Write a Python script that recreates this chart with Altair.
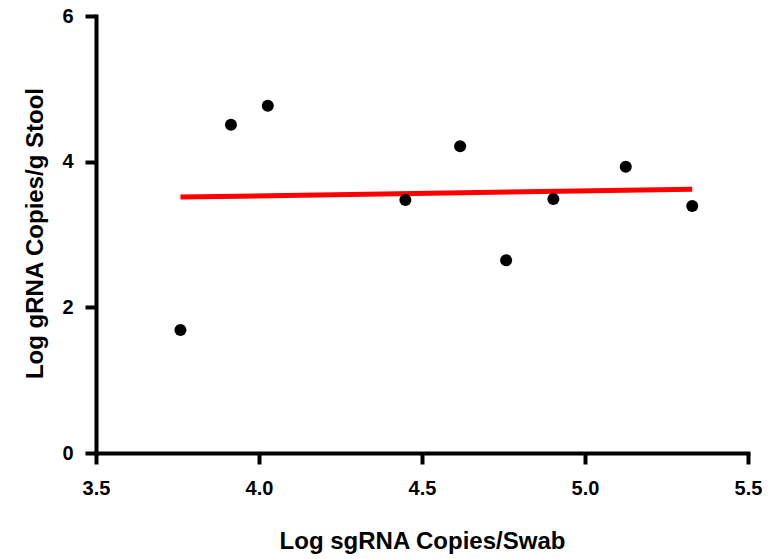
import altair as alt
import pandas as pd

swab = [3.759, 3.914, 4.027, 4.449, 4.617, 4.758, 4.903, 5.125, 5.329]
stool = [1.689, 4.508, 4.769, 3.474, 4.211, 2.646, 3.488, 3.931, 3.391]
x_ticks = [3.5, 4.0, 4.5, 5.0, 5.5]
y_ticks = [0, 2, 4, 6]

df = pd.DataFrame({"swab": swab, "stool": stool})

FONT = "Liberation Sans"

common = dict(
    grid=False,
    domainColor="black", domainWidth=4, domainCap="square",
    tickColor="black", tickWidth=4, tickSize=11,
    labelFont=FONT, labelFontSize=20, labelFontWeight="bold", labelColor="black",
    labelFlush=False,
    titleFont=FONT, titleFontSize=24, titleFontWeight="bold", titleColor="black",
)

xenc = alt.X(
    "swab:Q",
    scale=alt.Scale(domain=[3.5, 5.5], nice=False, zero=False),
    axis=alt.Axis(
        title="Log sgRNA Copies/Swab",
        values=x_ticks,
        format=".1f",
        labelPadding=14,
        titleBaseline="alphabetic", titleY=95, titleX=326, titleAlign="center",
        **common,
    ),
)
yenc = alt.Y(
    "stool:Q",
    scale=alt.Scale(domain=[0, 6], nice=False),
    axis=alt.Axis(
        title="Log gRNA Copies/g Stool",
        values=y_ticks,
        format="d",
        labelPadding=12,
        titleAngle=270, titleBaseline="alphabetic", titleX=-54, titleY=217, titleAlign="center",
        **common,
    ),
)

base = alt.Chart(df).encode(x=xenc, y=yenc)

points = base.mark_circle(size=145, color="black", opacity=1)

line = base.transform_regression("swab", "stool", method="linear").mark_line(
    color="#ff0000", strokeWidth=5, strokeCap="butt"
)

chart = (
    alt.layer(line, points)
    .properties(
        width=652,
        height=437,
        autosize=alt.AutoSizeParams(type="none"),
        padding={"left": 96, "top": 16, "right": 34, "bottom": 106},
        background="white",
    )
    .configure_view(stroke=None)
)

chart.save("out.html", embed_options={"renderer": "svg", "actions": False})
